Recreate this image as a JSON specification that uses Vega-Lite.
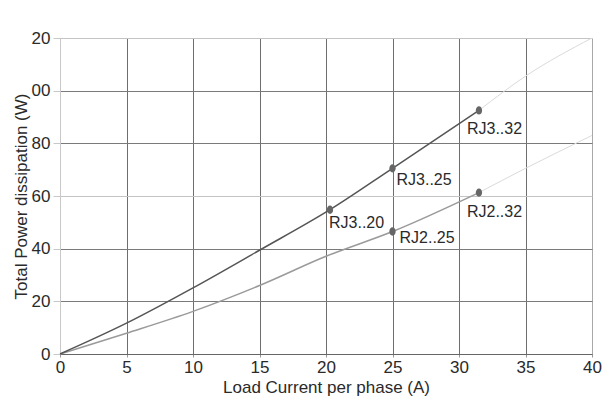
{
  "$schema": "https://vega.github.io/schema/vega-lite/v6.json",
  "width": 532,
  "height": 316,
  "autosize": {"type": "none"},
  "padding": {"left": 60, "top": 38, "right": 24, "bottom": 49},
  "background": "white",
  "config": {
    "view": {"stroke": null},
    "font": "Liberation Sans",
    "axis": {"labelFont": "Liberation Sans", "titleFont": "Liberation Sans", "labelFontSize": 17, "titleFontSize": 17, "titleFontWeight": "normal", "labelColor": "#2a2a2a", "titleColor": "#2a2a2a"}
  },
  "datasets": {
    "curves": [
      {"current": 0, "power": 0, "series": "RJ3"},
      {"current": 5, "power": 11.7, "series": "RJ3"},
      {"current": 10, "power": 25.1, "series": "RJ3"},
      {"current": 15, "power": 39.4, "series": "RJ3"},
      {"current": 20.3, "power": 54.8, "series": "RJ3"},
      {"current": 25, "power": 70.5, "series": "RJ3"},
      {"current": 31.5, "power": 92.5, "series": "RJ3"},
      {"current": 0, "power": 0, "series": "RJ2"},
      {"current": 5, "power": 7.9, "series": "RJ2"},
      {"current": 10, "power": 16.2, "series": "RJ2"},
      {"current": 15, "power": 26, "series": "RJ2"},
      {"current": 20, "power": 37.1, "series": "RJ2"},
      {"current": 25, "power": 46.5, "series": "RJ2"},
      {"current": 31.5, "power": 61.3, "series": "RJ2"}
    ],
    "extension": [
      {"current": 31.5, "power": 92.5, "series": "RJ3"},
      {"current": 35, "power": 105.5, "series": "RJ3"},
      {"current": 40, "power": 120, "series": "RJ3"},
      {"current": 31.5, "power": 61.3, "series": "RJ2"},
      {"current": 35, "power": 70.5, "series": "RJ2"},
      {"current": 40, "power": 83, "series": "RJ2"}
    ],
    "points": [
      {"current": 20.3, "power": 54.8, "label": "RJ3..20"},
      {"current": 25, "power": 70.5, "label": "RJ3..25"},
      {"current": 31.5, "power": 92.5, "label": "RJ3..32"},
      {"current": 25, "power": 46.5, "label": "RJ2..25"},
      {"current": 31.5, "power": 61.3, "label": "RJ2..32"}
    ]
  },
  "encoding": {
    "x": {
      "field": "current", "type": "quantitative",
      "scale": {"domain": [0, 40], "nice": false},
      "axis": {"title": "Load Current per phase (A)", "values": [0, 5, 10, 15, 20, 25, 30, 35, 40], "grid": true,
        "gridColor": {"condition": {"test": "datum.value == 40", "value": "#a8a8a8"}, "value": "#6e6e6e"},
        "gridOpacity": 1, "domainColor": "#666", "tickColor": "#999", "tickSize": 3, "labelPadding": 2, "titlePadding": 4, "labelFlush": false}
    },
    "y": {
      "field": "power", "type": "quantitative",
      "scale": {"domain": [0, 120], "nice": false},
      "axis": {"title": "Total Power dissipation (W)", "values": [0, 20, 40, 60, 80, 100, 120], "grid": true,
        "gridColor": {"condition": {"test": "datum.value == 120 || datum.value == 60", "value": "#c4c4c4"}, "value": "#7a7a7a"},
        "gridOpacity": 1, "domainColor": "#c8c8c8", "tickColor": "#c8c8c8", "tickSize": 7, "labelPadding": 3, "titlePadding": 1,
        "labelExpr": "datum.value == 120 ? '20' : datum.value == 100 ? '00' : datum.label"}
    }
  },
  "layer": [
    {
      "data": {"name": "extension"},
      "mark": {"type": "line", "color": "#dadada", "strokeWidth": 1, "interpolate": "monotone", "clip": true},
      "encoding": {"detail": {"field": "series"}}
    },
    {
      "data": {"name": "curves"},
      "transform": [{"filter": "datum.series == 'RJ2'"}],
      "mark": {"type": "line", "color": "#9a9a9a", "strokeWidth": 1.5, "interpolate": "monotone"}
    },
    {
      "data": {"name": "curves"},
      "transform": [{"filter": "datum.series == 'RJ3'"}],
      "mark": {"type": "line", "color": "#555555", "strokeWidth": 1.5, "interpolate": "monotone"}
    },
    {
      "data": {"name": "points"},
      "mark": {"type": "point", "filled": true, "color": "#666666", "opacity": 1, "size": 70, "shape": "M-0.75,0A0.75,1,0,1,1,0.75,0A0.75,1,0,1,1,-0.75,0Z"}
    },
    {
      "data": {"name": "points"},
      "transform": [{"filter": "datum.label == 'RJ3..20'"}],
      "mark": {"type": "text", "align": "left", "baseline": "middle", "dx": -1, "dy": 13, "fontSize": 16, "color": "#2a2a2a", "font": "Liberation Sans"},
      "encoding": {"text": {"field": "label"}}
    },
    {
      "data": {"name": "points"},
      "transform": [{"filter": "datum.label == 'RJ3..25'"}],
      "mark": {"type": "text", "align": "left", "baseline": "middle", "dx": 4, "dy": 12, "fontSize": 16, "color": "#2a2a2a", "font": "Liberation Sans"},
      "encoding": {"text": {"field": "label"}}
    },
    {
      "data": {"name": "points"},
      "transform": [{"filter": "datum.label == 'RJ2..25'"}],
      "mark": {"type": "text", "align": "left", "baseline": "middle", "dx": 7, "dy": 6, "fontSize": 16, "color": "#2a2a2a", "font": "Liberation Sans"},
      "encoding": {"text": {"field": "label"}}
    },
    {
      "data": {"name": "points"},
      "transform": [{"filter": "datum.label == 'RJ3..32' || datum.label == 'RJ2..32'"}],
      "mark": {"type": "text", "align": "left", "baseline": "middle", "dx": -12, "dy": 19, "fontSize": 16, "color": "#2a2a2a", "font": "Liberation Sans"},
      "encoding": {"text": {"field": "label"}}
    }
  ]
}
